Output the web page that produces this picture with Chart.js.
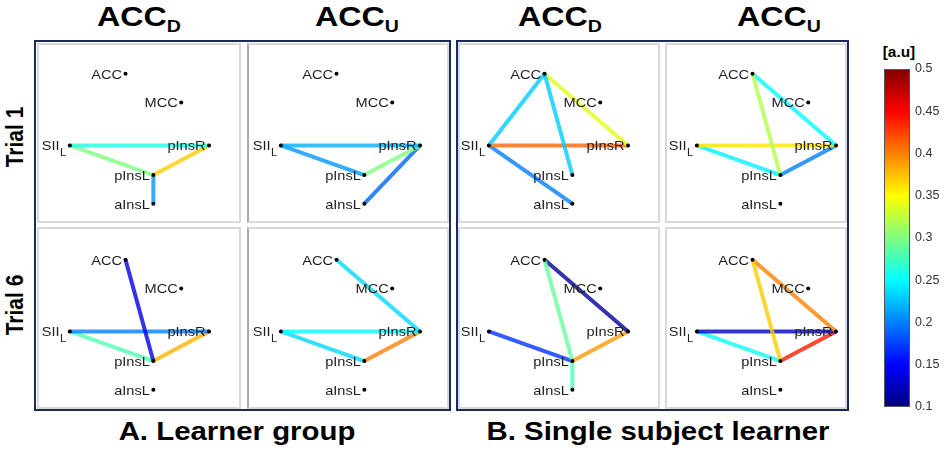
<!DOCTYPE html>
<html lang="en">
<head>
<meta charset="UTF-8">
<title>Connectivity graphs</title>
<script src="https://cdn.jsdelivr.net/npm/chart.js"></script>
<style>
  body { margin:0; width:945px; height:451px; background:#fff; position:relative; overflow:hidden;
         font-family:"Liberation Sans", Arial, sans-serif; color:#000; }
  .box { position:absolute; border:2px solid #1b2a5c; box-sizing:border-box; }
  .frame { position:absolute; border:2px solid #d9d9d9; box-sizing:border-box; }
  .frame.dark { border-left-color:#a9a9a9; }
  canvas.panel { position:absolute; }
  .head { position:absolute; font-weight:bold; font-size:28px; line-height:28px; white-space:nowrap;
          transform:translateX(-50%) scaleX(1.15); }
  .head span { font-size:17px; position:relative; top:6px; }
  .trial { position:absolute; font-weight:bold; font-size:21px; line-height:21px; white-space:nowrap;
           transform:translate(-50%,-50%) rotate(-90deg) scaleY(1.15); }
  .foot { position:absolute; font-weight:bold; font-size:26px; line-height:26px; white-space:nowrap;
          transform:translateX(-50%) scaleX(1.13); }
  .unit { position:absolute; font-weight:bold; font-size:14px; line-height:14px; white-space:nowrap;
          transform:translateX(-50%) scaleX(1.1); }
</style>
</head>
<body>

<div class="head" style="left:139px;top:3px">ACC<span>D</span></div>
<div class="head" style="left:357px;top:3px">ACC<span>U</span></div>
<div class="head" style="left:560px;top:3px">ACC<span>D</span></div>
<div class="head" style="left:779px;top:3px">ACC<span>U</span></div>

<div class="trial" style="left:14px;top:137px">Trial 1</div>
<div class="trial" style="left:14px;top:305px">Trial 6</div>

<div class="frame" style="left:37px;top:43px;width:204px;height:180px"></div>
<div class="frame dark" style="left:247px;top:43px;width:202px;height:180px"></div>
<div class="frame" style="left:37px;top:227px;width:204px;height:182px"></div>
<div class="frame dark" style="left:247px;top:227px;width:202px;height:182px"></div>
<div class="frame" style="left:458px;top:43px;width:202px;height:180px"></div>
<div class="frame" style="left:665px;top:43px;width:182px;height:180px"></div>
<div class="frame" style="left:458px;top:227px;width:202px;height:182px"></div>
<div class="frame" style="left:665px;top:227px;width:182px;height:182px"></div>

<div class="box" style="left:34px;top:40px;width:417px;height:371px"></div>
<div class="box" style="left:456px;top:40px;width:393px;height:371px"></div>

<canvas class="panel" id="a1" width="200" height="180" style="left:38px;top:43px"></canvas>
<canvas class="panel" id="a2" width="200" height="180" style="left:249px;top:43px"></canvas>
<canvas class="panel" id="a3" width="200" height="180" style="left:38px;top:229px"></canvas>
<canvas class="panel" id="a4" width="200" height="180" style="left:249px;top:229px"></canvas>
<canvas class="panel" id="b1" width="200" height="180" style="left:457px;top:43px"></canvas>
<canvas class="panel" id="b2" width="200" height="180" style="left:665px;top:43px"></canvas>
<canvas class="panel" id="b3" width="200" height="180" style="left:457px;top:229px"></canvas>
<canvas class="panel" id="b4" width="200" height="180" style="left:665px;top:229px"></canvas>

<div class="unit" style="left:899px;top:45px">[a.u]</div>
<canvas class="panel" id="cbar" width="75" height="380" style="left:870px;top:40px"></canvas>

<div class="foot" style="left:237px;top:418px">A. Learner group</div>
<div class="foot" style="left:658px;top:418px">B. Single subject learner</div>

<script>
// graph nodes (layout coordinates, y grows downward)
const nodeNames = ['ACC', 'MCC', 'SII', 'pInsR', 'pInsL', 'aInsL'];
const nodeSubs  = ['', '', 'L', '', '', ''];
const nodeX     = [87, 145, 29, 174, 116, 116];
const nodeY     = [28, 58, 103, 103, 134, 164];

// edges: [from, to, value in a.u]
const learnerD1 = [['SII','pInsR',0.26], ['SII','pInsL',0.30], ['pInsL','pInsR',0.37], ['pInsL','aInsL',0.21]];
const learnerU1 = [['SII','pInsR',0.22], ['SII','pInsL',0.21], ['pInsL','pInsR',0.30], ['aInsL','pInsR',0.19]];
const learnerD6 = [['ACC','pInsL',0.14], ['SII','pInsR',0.20], ['SII','pInsL',0.28], ['pInsL','pInsR',0.38]];
const learnerU6 = [['ACC','pInsR',0.235], ['SII','pInsR',0.25], ['SII','pInsL',0.235], ['pInsL','pInsR',0.40]];
const singleD1  = [['ACC','SII',0.23], ['ACC','pInsL',0.23], ['ACC','pInsR',0.34], ['SII','pInsR',0.41], ['SII','aInsL',0.20]];
const singleU1  = [['ACC','pInsL',0.32], ['ACC','pInsR',0.25], ['SII','pInsR',0.36], ['SII','pInsL',0.245], ['pInsL','pInsR',0.20]];
const singleD6  = [['ACC','pInsL',0.29], ['ACC','pInsR',0.11], ['SII','pInsL',0.17], ['pInsL','pInsR',0.39], ['pInsL','aInsL',0.28]];
const singleU6  = [['ACC','pInsL',0.37], ['ACC','pInsR',0.40], ['SII','pInsR',0.13], ['SII','pInsL',0.255], ['pInsL','pInsR',0.44]];

// colour scale
const colorMin = 0.1;
const colorMax = 0.5;
const colorStep = 0.05;

const FONT = '"Liberation Sans", Arial, sans-serif';

function jet(t) {
  const c = v => Math.max(0, Math.min(1, v));
  return [c(1.5 - Math.abs(4 * t - 3)), c(1.5 - Math.abs(4 * t - 2)), c(1.5 - Math.abs(4 * t - 1))];
}
function edgeColor(v, alpha) {
  const t = (v - colorMin) / (colorMax - colorMin);
  const [r, g, b] = jet(t).map(x => Math.round(x * 255));
  return 'rgba(' + r + ',' + g + ',' + b + ',' + alpha + ')';
}

const nodeLabels = {
  id: 'nodeLabels',
  afterDatasetsDraw(chart) {
    const ctx = chart.ctx, xs = chart.scales.x, ys = chart.scales.y;
    ctx.save();
    ctx.fillStyle = '#1e1e1e';
    ctx.textAlign = 'right';
    ctx.textBaseline = 'alphabetic';
    nodeNames.forEach((name, i) => {
      const px = xs.getPixelForValue(nodeX[i]);
      const py = ys.getPixelForValue(nodeY[i]);
      ctx.save();
      ctx.translate(px - 3.5, py + 4.8);
      ctx.scale(1.08, 1);
      let end = 0;
      if (nodeSubs[i]) {
        ctx.font = '10.5px ' + FONT;
        ctx.fillText(nodeSubs[i], 0, 6);
        end = -ctx.measureText(nodeSubs[i]).width - 0.5;
      }
      ctx.font = '13.5px ' + FONT;
      ctx.fillText(name, end, 0);
      ctx.restore();
    });
    ctx.restore();
  }
};

function makePanel(id, edges) {
  const nodes = nodeNames.map((n, i) => ({x: nodeX[i], y: nodeY[i]}));
  const datasets = [{
    data: nodes, showLine: false, pointRadius: 2, pointBorderWidth: 0,
    pointBackgroundColor: '#000', order: 0
  }];
  edges.forEach(e => {
    const a = nodeNames.indexOf(e[0]), b = nodeNames.indexOf(e[1]);
    datasets.push({
      data: [nodes[a], nodes[b]], showLine: true, pointRadius: 0,
      borderColor: edgeColor(e[2], 0.8), borderWidth: 4, borderCapStyle: 'butt', order: 1
    });
  });
  new Chart(document.getElementById(id), {
    type: 'scatter',
    data: {datasets: datasets},
    options: {
      responsive: false, animation: false, events: [],
      layout: {padding: 0},
      plugins: {legend: {display: false}, tooltip: {enabled: false}},
      scales: {
        x: {type: 'linear', min: 0, max: 200, display: false},
        y: {type: 'linear', min: 0, max: 180, reverse: true, display: false}
      }
    },
    plugins: [nodeLabels]
  });
}

makePanel('a1', learnerD1);
makePanel('a2', learnerU1);
makePanel('a3', learnerD6);
makePanel('a4', learnerU6);
makePanel('b1', singleD1);
makePanel('b2', singleU1);
makePanel('b3', singleD6);
makePanel('b4', singleU6);

// colour bar
const jetFill = {
  id: 'jetFill',
  beforeDatasetsDraw(chart) {
    const {ctx, chartArea: a} = chart;
    const g = ctx.createLinearGradient(0, a.bottom, 0, a.top);
    for (let k = 0; k <= 16; k++) {
      const [r, gg, b] = jet(k / 16).map(x => Math.round(x * 255));
      g.addColorStop(k / 16, 'rgb(' + r + ',' + gg + ',' + b + ')');
    }
    ctx.save();
    ctx.fillStyle = g;
    ctx.fillRect(a.left, a.top, a.right - a.left, a.bottom - a.top);
    ctx.strokeStyle = '#555';
    ctx.lineWidth = 1;
    ctx.strokeRect(a.left + 0.5, a.top + 0.5, a.right - a.left - 1, a.bottom - a.top - 1);
    ctx.restore();
  }
};

new Chart(document.getElementById('cbar'), {
  type: 'bar',
  data: {labels: [''], datasets: [{data: []}]},
  options: {
    responsive: false, animation: false, events: [],
    layout: {padding: {left: 14, top: 29, bottom: 13, right: 0}},
    plugins: {legend: {display: false}, tooltip: {enabled: false}},
    scales: {
      x: {display: false},
      y: {
        position: 'right', min: colorMin, max: colorMax,
        border: {display: false},
        grid: {display: false, drawTicks: false},
        afterFit: s => { s.width = 35; },
        ticks: {
          stepSize: colorStep, padding: 5, color: '#333',
          font: {family: FONT, size: 12.5},
          callback: v => String(+v.toFixed(2))
        }
      }
    }
  },
  plugins: [jetFill]
});
</script>
</body>
</html>
